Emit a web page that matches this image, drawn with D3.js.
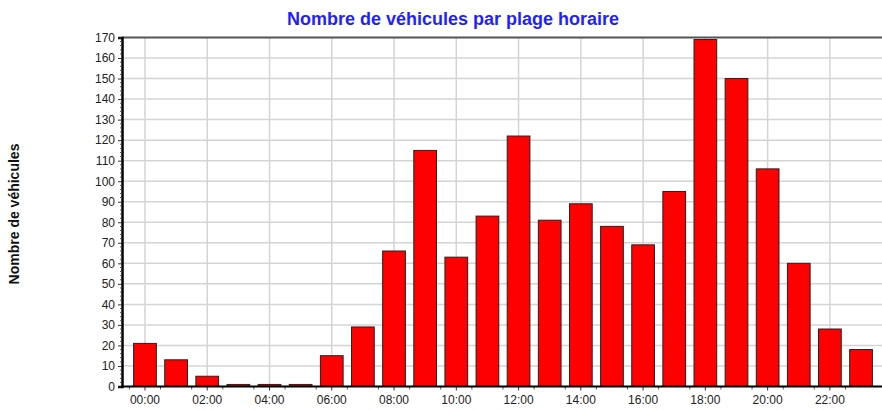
<!DOCTYPE html>
<html>
<head>
<meta charset="utf-8">
<script src="https://cdn.jsdelivr.net/npm/d3@7"></script>
<style>
  body { margin: 0; background: #fff; }
  svg { display: block; font-family: "Liberation Sans", Arial, sans-serif; }
</style>
</head>
<body>
<svg id="chart"></svg>
<script>
// heures et nombre de vehicules
const hours = ["00:00","01:00","02:00","03:00","04:00","05:00","06:00","07:00","08:00","09:00","10:00","11:00",
               "12:00","13:00","14:00","15:00","16:00","17:00","18:00","19:00","20:00","21:00","22:00","23:00"];
const counts = [21, 13, 5, 1, 1, 1, 15, 29, 66, 115, 63, 83, 122, 81, 89, 78, 69, 95, 169, 150, 106, 60, 28, 18];
const yTicks = d3.range(0, 171, 10);
const xLabels = hours.filter((h, i) => i % 2 === 0);

const width = 882, height = 410;
const plot = { left: 122, right: 882, top: 37.5, bottom: 386.5 };

const svg = d3.select("#chart")
  .attr("width", width)
  .attr("height", height);

const x = d3.scaleBand()
  .domain(hours)
  .range([129.4, 876.6])
  .paddingInner(0.27)
  .paddingOuter(0.135);

const y = d3.scaleLinear()
  .domain([0, 170])
  .range([plot.bottom, plot.top]);

// grille
svg.append("g")
  .selectAll("line")
  .data(yTicks.filter(d => d > 0 && d < 170))
  .join("line")
  .attr("x1", plot.left).attr("x2", plot.right)
  .attr("y1", d => y(d)).attr("y2", d => y(d))
  .attr("stroke", "#d4d4d4")
  .attr("stroke-width", 1.5);

svg.append("g")
  .selectAll("line")
  .data(xLabels)
  .join("line")
  .attr("x1", d => x(d) + x.bandwidth() / 2).attr("x2", d => x(d) + x.bandwidth() / 2)
  .attr("y1", plot.top).attr("y2", plot.bottom)
  .attr("stroke", "#d4d4d4")
  .attr("stroke-width", 1.5);

// bordure du haut
svg.append("line")
  .attr("x1", plot.left).attr("x2", plot.right)
  .attr("y1", plot.top).attr("y2", plot.top)
  .attr("stroke", "#555")
  .attr("stroke-width", 2);

// barres
svg.append("g")
  .selectAll("rect")
  .data(counts)
  .join("rect")
  .attr("x", (d, i) => x(hours[i]))
  .attr("y", d => y(d))
  .attr("width", x.bandwidth())
  .attr("height", d => y(0) - y(d))
  .attr("fill", "#ff0000")
  .attr("stroke", "#222")
  .attr("stroke-width", 1);

// axe Y
const yAxis = svg.append("g")
  .attr("transform", `translate(${plot.left},0)`)
  .call(d3.axisLeft(y).tickValues(yTicks).tickSize(4).tickPadding(3));
yAxis.select(".domain").attr("stroke", "#000").attr("stroke-width", 2.5);
yAxis.selectAll(".tick line").attr("stroke", "#333");
yAxis.selectAll(".tick text")
  .attr("font-size", 12)
  .attr("fill", "#222")
  .attr("font-family", "Liberation Sans, Arial, sans-serif");

svg.append("g")
  .attr("transform", `translate(${plot.left},0)`)
  .selectAll("line")
  .data(d3.range(0, 171, 2).filter(d => d % 10 !== 0))
  .join("line")
  .attr("x1", -2).attr("x2", 0)
  .attr("y1", d => y(d)).attr("y2", d => y(d))
  .attr("stroke", "#555");

// axe X
const xAxis = svg.append("g")
  .attr("transform", `translate(0,${plot.bottom})`)
  .call(d3.axisBottom(x).tickValues(xLabels).tickSize(4).tickPadding(5));
xAxis.select(".domain").remove();
xAxis.selectAll(".tick line").attr("stroke", "#333");
xAxis.selectAll(".tick text")
  .attr("font-size", 12)
  .attr("fill", "#222")
  .attr("font-family", "Liberation Sans, Arial, sans-serif");

svg.append("g")
  .selectAll("line")
  .data(hours)
  .join("line")
  .attr("x1", d => x(d) - x.step() * x.paddingInner() / 2)
  .attr("x2", d => x(d) - x.step() * x.paddingInner() / 2)
  .attr("y1", plot.bottom).attr("y2", plot.bottom + 3)
  .attr("stroke", "#555");

svg.append("line")
  .attr("x1", plot.left - 1).attr("x2", plot.right)
  .attr("y1", plot.bottom).attr("y2", plot.bottom)
  .attr("stroke", "#000")
  .attr("stroke-width", 2);

// titres
svg.append("text")
  .attr("x", 453)
  .attr("y", 25)
  .attr("text-anchor", "middle")
  .attr("font-size", 18)
  .attr("font-weight", "bold")
  .attr("fill", "#1f1fff")
  .text("Nombre de véhicules par plage horaire");

svg.append("text")
  .attr("transform", "translate(19,214) rotate(-90)")
  .attr("text-anchor", "middle")
  .attr("font-size", 14)
  .attr("font-weight", "bold")
  .attr("fill", "#111")
  .text("Nombre de véhicules");
</script>
</body>
</html>
